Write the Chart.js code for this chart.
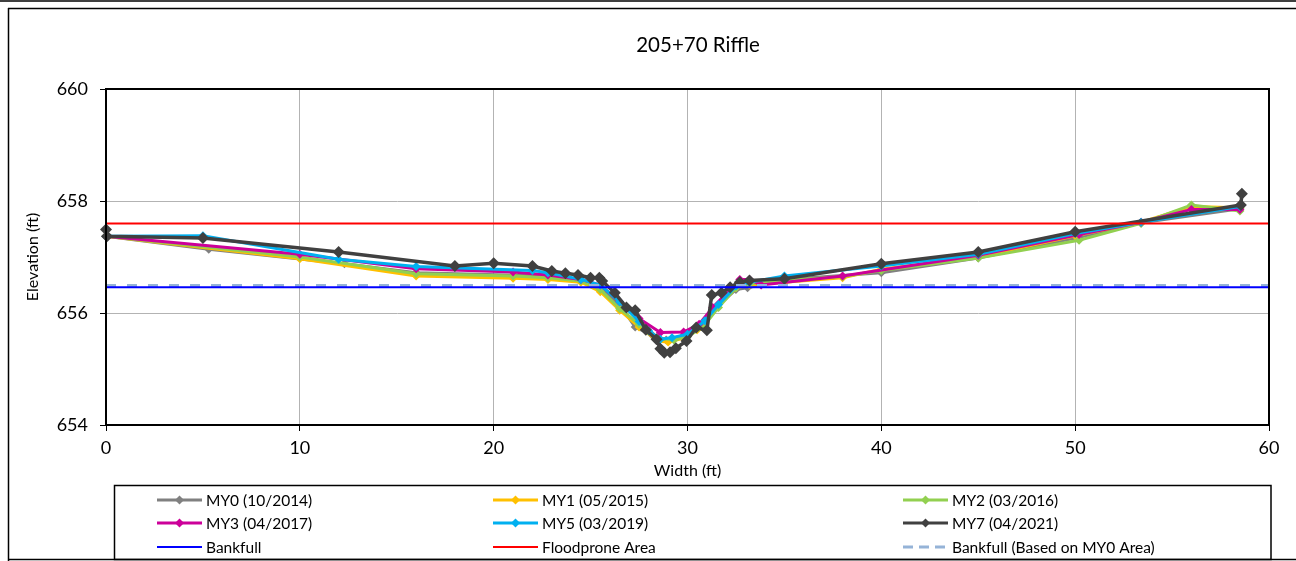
<!DOCTYPE html>
<html><head><meta charset="utf-8">
<script src="https://cdn.jsdelivr.net/npm/chart.js@4.4.1/dist/chart.umd.min.js"></script>
<style>html,body{margin:0;padding:0;background:#fff;}#wrap{width:1296px;height:561px;}</style>
</head><body><div id="wrap"><canvas id="c" width="1296" height="561"></canvas></div>
<script>
const chartTitle = '205+70 Riffle';
const xTitle = 'Width (ft)';
const yTitle = 'Elevation (ft)';
const xTicks = [0, 10, 20, 30, 40, 50, 60];
const yTicks = [654, 656, 658, 660];
const seriesNames = ['MY0 (10/2014)', 'MY1 (05/2015)', 'MY2 (03/2016)', 'MY3 (04/2017)', 'MY5 (03/2019)', 'MY7 (04/2021)'];
const lineNames = ['Bankfull', 'Floodprone Area', 'Bankfull (Based on MY0 Area)'];

const my0X = [0, 5.3, 12.3, 16.0, 22.8, 24.5, 25.5, 26.5, 27.3, 28.2, 28.9, 29.8, 30.5, 31.5, 32.5, 33.1, 35.0, 40.0, 45.0, 50.2, 53.4, 58.5];
const my0Y = [657.37, 657.14, 656.88, 656.72, 656.66, 656.58, 656.45, 656.15, 655.75, 655.60, 655.52, 655.60, 655.75, 656.10, 656.42, 656.45, 656.60, 656.72, 656.98, 657.35, 657.61, 657.86];

const my1X = [0, 10, 16, 21, 22.8, 24.5, 25.5, 26.5, 27.5, 28.5, 29.0, 29.8, 30.5, 31.5, 32.5, 33.2, 35, 38, 40, 45, 50, 53.4, 56, 58.5];
const my1Y = [657.37, 656.97, 656.66, 656.62, 656.60, 656.55, 656.38, 656.05, 655.75, 655.50, 655.48, 655.55, 655.70, 656.10, 656.45, 656.50, 656.55, 656.63, 656.78, 657.00, 657.38, 657.62, 657.90, 657.88];

const my2X = [0, 10, 16, 21, 22.8, 24.5, 25.5, 26.5, 27.5, 28.5, 29.3, 30.0, 30.8, 31.6, 32.5, 33.2, 35, 38, 40, 45, 50.2, 53.4, 56, 58.5];
const my2Y = [657.37, 657.00, 656.70, 656.66, 656.63, 656.57, 656.42, 656.08, 655.80, 655.55, 655.52, 655.58, 655.75, 656.10, 656.45, 656.52, 656.58, 656.65, 656.76, 656.98, 657.30, 657.60, 657.93, 657.82];

const my3X = [0, 10, 16, 21, 22.8, 24.5, 25.5, 26.5, 27.5, 28.6, 29.8, 30.6, 31.3, 32.7, 33.2, 33.8, 38, 45, 50.2, 53.4, 56, 58.5];
const my3Y = [657.37, 657.05, 656.79, 656.73, 656.68, 656.60, 656.50, 656.20, 655.90, 655.65, 655.66, 655.80, 656.10, 656.60, 656.60, 656.50, 656.66, 657.03, 657.40, 657.62, 657.85, 657.85];

const my5X = [0, 5, 12, 16, 22, 22.8, 24.5, 25.5, 26.5, 27.5, 28.0, 28.6, 29.2, 30.0, 30.9, 31.6, 32.5, 33.2, 35, 40, 45, 50, 53.4, 58.5];
const my5Y = [657.37, 657.38, 656.96, 656.83, 656.76, 656.72, 656.60, 656.50, 656.20, 655.85, 655.68, 655.53, 655.56, 655.62, 655.86, 656.15, 656.48, 656.55, 656.66, 656.84, 657.05, 657.42, 657.62, 657.90];

const my7X = [0, 0.05, 5.0, 12.0, 18.0, 20.0, 22.0, 23.0, 23.7, 24.35, 25.0, 25.45, 25.6, 26.25, 26.85, 27.3, 27.85, 28.4, 28.6, 28.8, 29.1, 29.4, 29.95, 30.45, 31.0, 31.25, 31.75, 32.2, 32.7, 33.2, 35.0, 40.0, 45.0, 50.0, 58.55, 58.6];
const my7Y = [657.49, 657.37, 657.34, 657.09, 656.84, 656.89, 656.84, 656.75, 656.71, 656.68, 656.63, 656.63, 656.57, 656.36, 656.10, 656.05, 655.70, 655.53, 655.36, 655.29, 655.30, 655.37, 655.50, 655.74, 655.69, 656.32, 656.36, 656.46, 656.55, 656.58, 656.61, 656.88, 657.09, 657.45, 657.93, 658.13];

const lineX = [0, 60];
const bankfullY = [656.46, 656.46];
const floodproneY = [657.60, 657.60];
const bankfullMY0Y = [656.49, 656.49];

const seriesColors = ['#808080', '#FFC000', '#92D050', '#CC0099', '#00B0F0', '#404040'];
const lineColors = ['#0000FF', '#FF0000', '#95B3D7'];

function pts(xs, ys) { return xs.map((x, i) => ({x: x, y: ys[i]})); }

const seriesX = [my0X, my1X, my2X, my3X, my5X, my7X];
const seriesY = [my0Y, my1Y, my2Y, my3Y, my5Y, my7Y];
const datasets = [];
seriesNames.forEach((n, i) => {
  const isLast = i === 5;
  datasets.push({
    label: n, data: pts(seriesX[i], seriesY[i]), showLine: true,
    borderColor: seriesColors[i], backgroundColor: seriesColors[i],
    borderWidth: isLast ? 3.5 : 3, pointStyle: 'rectRot',
    pointRadius: isLast ? 6 : 4.5, pointBorderWidth: 0,
    order: 10 - i, clip: false, tension: 0
  });
});
const lineYs = [bankfullY, floodproneY, bankfullMY0Y];
lineNames.forEach((n, i) => {
  datasets.push({
    label: n, data: pts(lineX, lineYs[i]), showLine: true,
    borderColor: lineColors[i], backgroundColor: lineColors[i],
    borderWidth: i === 2 ? 3 : 2, borderDash: i === 2 ? [10, 11] : [],
    pointRadius: 0, order: i === 2 ? 2 : 1
  });
});

const FONT = 'Lato, "Open Sans", sans-serif';

const decor = {
  id: 'decor',
  afterDraw(chart) {
    const ctx = chart.ctx, a = chart.chartArea;
    ctx.save();
    // outer frame
    ctx.strokeStyle = '#000'; ctx.lineWidth = 1.5;
    ctx.beginPath();
    ctx.moveTo(0, 1); ctx.lineTo(1296, 1);
    ctx.moveTo(8, 8.5); ctx.lineTo(1296, 8.5);
    ctx.moveTo(8.5, 8); ctx.lineTo(8.5, 561);
    ctx.moveTo(8, 559.5); ctx.lineTo(1296, 559.5);
    ctx.stroke();
    // plot border
    ctx.lineWidth = 2;
    ctx.strokeRect(a.left, a.top, a.right - a.left, a.bottom - a.top);
    // title & axis titles
    ctx.fillStyle = '#000';
    ctx.textAlign = 'center'; ctx.textBaseline = 'middle';
    ctx.font = '20.5px ' + FONT;
    ctx.fillText(chartTitle, 698, 45);
    ctx.font = '16px ' + FONT;
    ctx.fillText(xTitle, (a.left + a.right) / 2, 471);
    ctx.save();
    ctx.translate(33, (a.top + a.bottom) / 2);
    ctx.rotate(-Math.PI / 2);
    ctx.fillText(yTitle, 0, 0);
    ctx.restore();
    // legend box
    ctx.lineWidth = 1.5;
    ctx.strokeRect(114.5, 485.5, 1271 - 114.5, 559.5 - 485.5);
    const cols = [157, 493, 903];
    const rows = [500, 523, 547];
    const items = [];
    seriesNames.forEach((n, i) => items.push({name: n, color: seriesColors[i], marker: true, w: 3, dash: []}));
    lineNames.forEach((n, i) => items.push({name: n, color: lineColors[i], marker: false, w: i === 2 ? 3 : 2, dash: i === 2 ? [10, 6] : []}));
    ctx.textAlign = 'left';
    ctx.font = '15.5px ' + FONT;
    items.forEach((it, k) => {
      const cx = cols[k % 3], cy = rows[Math.floor(k / 3)];
      ctx.strokeStyle = it.color; ctx.lineWidth = it.w; ctx.setLineDash(it.dash);
      ctx.beginPath(); ctx.moveTo(cx, cy); ctx.lineTo(cx + 45, cy); ctx.stroke();
      ctx.setLineDash([]);
      if (it.marker) {
        const mx = cx + 22.5, r = 4.5;
        ctx.fillStyle = it.color;
        ctx.beginPath(); ctx.moveTo(mx, cy - r); ctx.lineTo(mx + r, cy); ctx.lineTo(mx, cy + r); ctx.lineTo(mx - r, cy); ctx.closePath(); ctx.fill();
      }
      ctx.fillStyle = '#000';
      ctx.fillText(it.name, cx + 49, cy + 1);
    });
    ctx.restore();
  }
};

new Chart(document.getElementById('c'), {
  type: 'scatter',
  data: { datasets: datasets },
  options: {
    responsive: false, animation: false,
    layout: { padding: { top: 89, right: 27, left: 0, bottom: 0 } },
    plugins: { legend: { display: false }, title: { display: false }, tooltip: { enabled: false } },
    scales: {
      x: {
        type: 'linear', min: 0, max: 60,
        afterBuildTicks: s => { s.ticks = xTicks.map(v => ({value: v})); },
        afterFit: s => { s.height = 136; },
        ticks: { color: '#000', font: { family: FONT, size: 18 }, padding: 6, maxRotation: 0 },
        grid: { color: '#b3b3b3', lineWidth: 1, tickLength: 6, tickColor: '#000' },
        border: { display: true, color: '#000', width: 2 }
      },
      y: {
        type: 'linear', min: 654, max: 660,
        afterBuildTicks: s => { s.ticks = yTicks.map(v => ({value: v})); },
        afterFit: s => { s.width = 106; },
        ticks: { color: '#000', font: { family: FONT, size: 18 }, padding: 12 },
        grid: { color: '#b3b3b3', lineWidth: 1, tickLength: 6, tickColor: '#000' },
        border: { display: true, color: '#000', width: 2 }
      }
    }
  },
  plugins: [decor]
});
</script>
</body></html>
